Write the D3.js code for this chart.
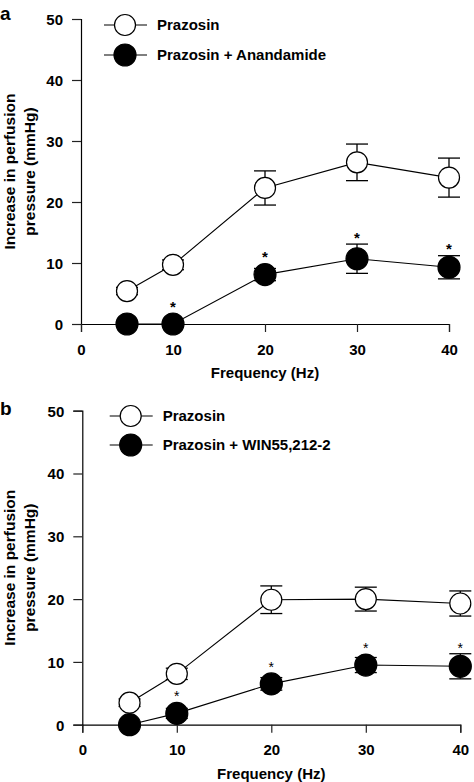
<!DOCTYPE html>
<html>
<head>
<meta charset="utf-8">
<script src="https://cdn.jsdelivr.net/npm/d3@7"></script>
<style>
  html, body { margin: 0; padding: 0; background: #fff; }
  svg { display: block; }
  text { font-family: "Liberation Sans", Arial, Helvetica, sans-serif; }
</style>
</head>
<body>
<svg id="chart" width="474" height="782"></svg>
<script>
// ---------- data ----------
const frequencies = [5, 10, 20, 30, 40];
const xTicks = [0, 10, 20, 30, 40];
const yTicks = [0, 10, 20, 30, 40, 50];

// Panel a
const aPrazosinMean = [5.4, 9.7, 22.3, 26.5, 24.0];
const aPrazosinSem  = [0.6, 0.8, 2.8, 3.0, 3.2];
const aAnandamideMean = [0.0, 0.0, 8.1, 10.7, 9.3];
const aAnandamideSem  = [0.0, 0.0, 1.0, 2.4, 1.9];
const aSignificant = [false, true, true, true, true];

// Panel b
const bPrazosinMean = [3.5, 8.1, 19.9, 20.0, 19.3];
const bPrazosinSem  = [0.6, 0.9, 2.2, 1.9, 2.0];
const bWinMean = [0.0, 1.8, 6.5, 9.5, 9.3];
const bWinSem  = [0.0, 0.8, 1.0, 1.2, 2.0];
const bSignificant = [false, true, true, true, true];

const seriesNames = ["Prazosin", "Prazosin + Anandamide", "Prazosin + WIN55,212-2"];
const panelLabels = ["a", "b"];
const xTitle = "Frequency (Hz)";
const yTitleLines = ["Increase in perfusion", "pressure (mmHg)"];

// ---------- drawing ----------
const svg = d3.select("#chart");

function drawPanel(cfg) {
  const x = d3.scaleLinear().domain([0, 40]).range([cfg.x0, cfg.x1]);
  const y = d3.scaleLinear().domain([0, 50]).range([cfg.y0, cfg.y1]);
  const g = svg.append("g");

  // y axis
  const yAxis = g.append("g")
    .attr("transform", `translate(${cfg.x0},0)`)
    .call(d3.axisLeft(y).tickValues(yTicks).tickSizeOuter(0).tickSize(9).tickPadding(9));
  // x axis
  const xAxis = g.append("g")
    .attr("transform", `translate(0,${y(0)})`)
    .call(d3.axisBottom(x).tickValues(xTicks).tickSizeOuter(0).tickSize(8).tickPadding(12));
  [yAxis, xAxis].forEach(ax => {
    ax.select(".domain").attr("stroke", "#000").attr("stroke-width", 1.2);
    ax.selectAll(".tick line").attr("stroke", "#222").attr("stroke-width", 1.2);
    ax.selectAll(".tick text")
      .attr("fill", "#000")
      .style("font-size", "15px")
      .style("font-weight", "bold")
      .style("font-family", '"Liberation Sans", Arial, sans-serif');
  });
  yAxis.selectAll(".tick text").attr("dy", "0.36em");

  // axis titles
  g.append("text")
    .attr("x", (cfg.x0 + cfg.x1) / 2).attr("y", y(0) + 54)
    .attr("text-anchor", "middle")
    .style("font-size", "15px").style("font-weight", "bold")
    .text(xTitle);
  const yc = (y(0) + y(50)) / 2;
  yTitleLines.forEach((t, i) => {
    g.append("text")
      .attr("transform", `translate(${14.5 + i * 20},${yc}) rotate(-90)`)
      .attr("text-anchor", "middle")
      .style("font-size", "15.5px").style("font-weight", "bold")
      .text(t);
  });

  // panel label
  g.append("text")
    .attr("x", 0).attr("y", cfg.labelY)
    .style("font-size", "19px").style("font-weight", "bold")
    .text(cfg.label);

  const series = [
    { mean: cfg.openMean, sem: cfg.openSem, fill: "#fff", r: 10.5 },
    { mean: cfg.filledMean, sem: cfg.filledSem, fill: "#000", r: 11 }
  ];
  const line = d3.line().x((d, i) => x(frequencies[i])).y(d => y(d));

  series.forEach(s => {
    const eg = g.append("g").attr("stroke", "#000").attr("stroke-width", 1.3);
    s.mean.forEach((m, i) => {
      const e = s.sem[i];
      if (e <= 0) return;
      const cx = x(frequencies[i]);
      eg.append("line").attr("x1", cx).attr("x2", cx).attr("y1", y(m + e)).attr("y2", y(m - e));
      [m + e, m - e].forEach(v => {
        eg.append("line").attr("x1", cx - 11).attr("x2", cx + 11).attr("y1", y(v)).attr("y2", y(v));
      });
    });
    g.append("path").datum(s.mean)
      .attr("d", line).attr("fill", "none").attr("stroke", "#000").attr("stroke-width", 1.1);
  });
  series.forEach(s => {
    g.append("g").selectAll("circle").data(s.mean).join("circle")
      .attr("cx", (d, i) => x(frequencies[i]))
      .attr("cy", d => y(d))
      .attr("r", s.r)
      .attr("fill", s.fill)
      .attr("stroke", "#000").attr("stroke-width", 1.2);
  });

  // significance asterisks
  const stars = cfg.sig
    .map((flag, i) => ({ flag, f: frequencies[i], m: cfg.filledMean[i], e: cfg.filledSem[i] }))
    .filter(d => d.flag);
  g.append("g").selectAll("text").data(stars).join("text")
    .attr("x", d => x(d.f))
    .attr("y", d => {
      const top = Math.min(y(d.m + d.e), y(d.m) - 11);
      return top - cfg.starGap + cfg.starFont * 0.57;
    })
    .attr("text-anchor", "middle")
    .style("font-size", cfg.starFont + "px")
    .style("font-weight", cfg.starWeight)
    .text("*");

  // legend
  const lg = g.append("g");
  [0, 1].forEach(k => {
    const ly = cfg.legY[k];
    lg.append("line").attr("x1", cfg.legX - 21).attr("x2", cfg.legX + 22)
      .attr("y1", ly).attr("y2", ly).attr("stroke", "#000").attr("stroke-width", 1.1);
    lg.append("circle").attr("cx", cfg.legX).attr("cy", ly).attr("r", series[k].r)
      .attr("fill", series[k].fill).attr("stroke", "#000").attr("stroke-width", 1.2);
    lg.append("text").attr("x", cfg.legX + 32).attr("y", ly).attr("dy", "0.36em")
      .style("font-size", "15px").style("font-weight", "bold")
      .text(cfg.names[k]);
  });
}

drawPanel({
  label: panelLabels[0], labelY: 20,
  x0: 81, x1: 449, y0: 324, y1: 19,
  openMean: aPrazosinMean, openSem: aPrazosinSem,
  filledMean: aAnandamideMean, filledSem: aAnandamideSem,
  sig: aSignificant, starFont: 15, starWeight: "bold", starGap: 10,
  names: [seriesNames[0], seriesNames[1]],
  legX: 125, legY: [25, 55]
});

drawPanel({
  label: panelLabels[1], labelY: 415,
  x0: 82.3, x1: 460.3, y0: 724.7, y1: 410.7,
  openMean: bPrazosinMean, openSem: bPrazosinSem,
  filledMean: bWinMean, filledSem: bWinSem,
  sig: bSignificant, starFont: 14, starWeight: "normal", starGap: 9,
  names: [seriesNames[0], seriesNames[2]],
  legX: 130.7, legY: [416, 445]
});
</script>
</body>
</html>
